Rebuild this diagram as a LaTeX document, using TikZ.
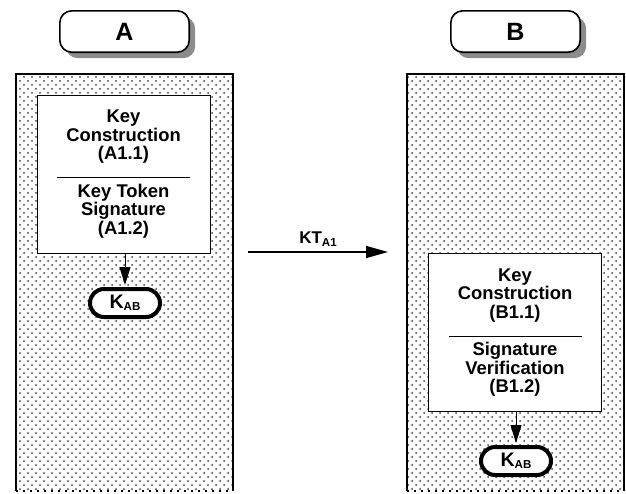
\documentclass[tikz,border=0pt]{standalone}
\usepackage{fontspec}
\setmainfont{Liberation Sans}
\usetikzlibrary{arrows.meta,positioning,shadows,patterns.meta}

\newcommand{\lowidx}[1]{\raisebox{-1.2pt}{\fontsize{5.8}{6}\selectfont#1}}

\tikzdeclarepattern{
  name=stipple,
  type=uncolored,
  bounding box={(-1pt,-1pt) and (3pt,3pt)},
  tile size={(4pt,4pt)},
  code={
    \fill (0pt,0pt) circle[radius=.5pt];
    \fill (2pt,2pt) circle[radius=.5pt];
  }
}

\begin{document}
\begin{tikzpicture}[x=.5pt,y=-.5pt,>={Triangle[length=9pt,width=5.5pt]},
  lane/.style={pattern=stipple,pattern color=black!75},
  party/.style={draw,line width=.8pt,rounded corners=6pt,fill=white,
    minimum width=64.7pt,minimum height=20.7pt,
    drop shadow={shadow xshift=3pt,shadow yshift=-3pt,fill=black!45,opacity=1},
    font=\fontsize{12.5}{14}\selectfont\bfseries},
  stepbox/.style={draw,line width=.5pt,fill=white,minimum width=86.5pt,
    minimum height=79pt,align=center,inner sep=0pt,
    font=\fontsize{9.2}{9.3}\selectfont\bfseries},
  keypill/.style={draw,line width=2pt,fill=white,rounded corners=7pt,
    minimum width=35pt,minimum height=14pt,inner sep=1pt,
    font=\fontsize{9.8}{10}\selectfont\bfseries}]
  \useasboundingbox (0,0) rectangle (626,493);
  \foreach \x in {16,407} {
    \path[lane] (\x,74) rectangle (\x+217,491);
    \draw[line width=.8pt] (\x,491) |- (\x+217,74) -- (\x+217,491);
    \draw[line width=1pt,dash pattern=on 1pt off 2.5pt] (\x,491) -- (\x+217,491);
  }
  \node[party] (partyA) at (124.5,31.5) {A};
  \node[party] (partyB) at (515.5,31.5) {B};
  \node[stepbox] (stepA) at (123.5,174) {Key\\Construction\\(A1.1)\\\rule{66.5pt}{.5pt}\\Key Token\\Signature\\(A1.2)};
  \node[stepbox] (stepB) at (515,332.5) {Key\\Construction\\(B1.1)\\\rule{66.5pt}{.5pt}\\Signature\\Verification\\(B1.2)};
  \node[keypill] (keyA) at (125,303) {K\lowidx{AB}};
  \node[keypill] (keyB) at (516,461) {K\lowidx{AB}};
  \draw[->,line width=.5pt,shorten >=1pt] (stepA.south -| keyA) -- (keyA);
  \draw[->,line width=.5pt,shorten >=1pt] (stepB.south -| keyB) -- (keyB);
  \coordinate (ktFrom) at (248,252);
  \coordinate (ktTo) at (388,252);
  \draw[->,line width=.7pt,>={Triangle[length=11pt,width=6pt]}] (ktFrom) -- node[above,inner sep=2.5pt,font=\fontsize{8.5}{10}\selectfont\bfseries] (ktLabel) {KT\lowidx{A1}} (ktTo);
\end{tikzpicture}
\end{document}
